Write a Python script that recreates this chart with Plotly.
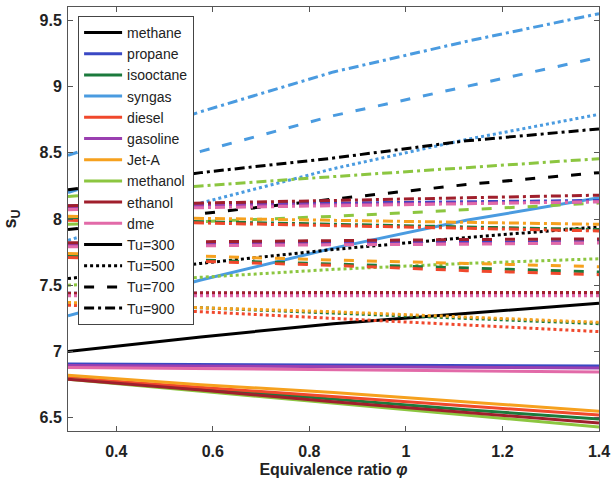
import plotly.graph_objects as go

# Equivalence ratio grid
phi = [0.3, 0.575, 0.85, 1.125, 1.4]

fuels = ["methane", "propane", "isooctane", "syngas", "diesel",
         "gasoline", "Jet-A", "methanol", "ethanol", "dme"]
fuel_colors = ["#000000", "#3a48c4", "#1b7a3c", "#4a9be0", "#f0482c",
               "#9a3fb0", "#f6a11e", "#8cc640", "#a01f2c", "#e26aa8"]

temperatures = [300, 500, 700, 900]
temp_dash = ["solid", "3px,3px", "10px,13px", "10px,4px,3px,4px"]

# Laminar flame speed s_U per fuel (rows follow `fuels`), one table per Tu
su_300 = [
    [7.00, 7.11, 7.21, 7.29, 7.365],
    [6.905, 6.90, 6.895, 6.89, 6.89],
    [6.80, 6.72, 6.64, 6.56, 6.49],
    [7.27, 7.54, 7.78, 7.99, 8.16],
    [6.80, 6.73, 6.66, 6.59, 6.52],
    [6.895, 6.89, 6.885, 6.88, 6.875],
    [6.82, 6.75, 6.69, 6.62, 6.55],
    [6.79, 6.70, 6.61, 6.52, 6.43],
    [6.79, 6.71, 6.62, 6.54, 6.46],
    [6.88, 6.87, 6.86, 6.85, 6.845],
]
su_500 = [
    [7.55, 7.665, 7.77, 7.86, 7.94],
    [7.44, 7.44, 7.44, 7.44, 7.44],
    [7.36, 7.33, 7.29, 7.25, 7.21],
    [7.84, 8.12, 8.38, 8.60, 8.79],
    [7.35, 7.30, 7.25, 7.20, 7.15],
    [7.43, 7.43, 7.43, 7.43, 7.43],
    [7.37, 7.33, 7.30, 7.26, 7.22],
    [7.50, 7.56, 7.62, 7.665, 7.70],
    [7.44, 7.445, 7.445, 7.445, 7.445],
    [7.42, 7.42, 7.42, 7.42, 7.42],
]
su_700 = [
    [7.92, 8.04, 8.15, 8.26, 8.35],
    [7.81, 7.815, 7.82, 7.825, 7.83],
    [7.72, 7.69, 7.66, 7.63, 7.60],
    [8.20, 8.51, 8.78, 9.00, 9.22],
    [7.71, 7.68, 7.65, 7.61, 7.58],
    [7.80, 7.805, 7.81, 7.815, 7.82],
    [7.74, 7.72, 7.69, 7.665, 7.64],
    [7.96, 7.98, 8.02, 8.07, 8.12],
    [7.82, 7.83, 7.84, 7.845, 7.85],
    [7.79, 7.80, 7.805, 7.81, 7.82],
]
su_900 = [
    [8.22, 8.35, 8.46, 8.59, 8.68],
    [8.10, 8.11, 8.12, 8.13, 8.14],
    [8.00, 7.98, 7.96, 7.94, 7.92],
    [8.48, 8.81, 9.11, 9.34, 9.55],
    [7.99, 7.97, 7.95, 7.93, 7.91],
    [8.09, 8.10, 8.11, 8.12, 8.13],
    [8.02, 8.005, 7.99, 7.975, 7.96],
    [8.17, 8.25, 8.32, 8.39, 8.455],
    [8.10, 8.12, 8.14, 8.16, 8.18],
    [8.07, 8.085, 8.10, 8.115, 8.13],
]
su_tables = [su_300, su_500, su_700, su_900]

fig = go.Figure()

for table, dash in zip(su_tables, temp_dash):
    for name, color, values in zip(fuels, fuel_colors, table):
        fig.add_trace(go.Scatter(
            x=phi, y=values, mode="lines", showlegend=False,
            line=dict(color=color, width=3, dash=dash),
            hoverinfo="skip",
        ))

# Legend entries: fuel colours, then line style per unburnt temperature
for name, color in zip(fuels, fuel_colors):
    fig.add_trace(go.Scatter(x=[None], y=[None], mode="lines", name=name,
                             line=dict(color=color, width=3)))
for tu, dash in zip(temperatures, temp_dash):
    fig.add_trace(go.Scatter(x=[None], y=[None], mode="lines", name=f"Tu={tu}",
                             line=dict(color="#000000", width=3, dash=dash)))

tick_font = dict(family="Arial", size=16, color="#222222", weight="bold")
axis_common = dict(
    showline=True, linecolor="#555555", linewidth=1, mirror="ticks",
    ticks="inside", ticklen=5, tickcolor="#555555", showgrid=False,
    zeroline=False, tickfont=tick_font, ticklabeloverflow="allow",
)

fig.update_layout(
    width=616, height=485,
    margin=dict(l=68, r=11, t=6, b=54),
    paper_bgcolor="white", plot_bgcolor="white",
    font=dict(family="Arial", color="#222222"),
    xaxis=dict(range=[0.3, 1.4], tickvals=[0.4, 0.6, 0.8, 1.0, 1.2, 1.4],
               ticktext=["0.4", "0.6", "0.8", "1", "1.2", "1.4"],
               ticklabelstandoff=6,
               title=dict(text="Equivalence ratio <i>φ</i>",
                          font=dict(family="Arial", size=16, color="#222222",
                                    weight="bold"),
                          standoff=4),
               **axis_common),
    yaxis=dict(range=[6.4, 9.6], tickvals=[6.5, 7, 7.5, 8, 8.5, 9, 9.5],
               ticktext=["6.5", "7", "7.5", "8", "8.5", "9", "9.5"],
               ticklabelstandoff=2,
               title=dict(text="s<sub>U</sub>",
                          font=dict(family="Arial", size=18, color="#222222",
                                    weight="bold"),
                          standoff=18),
               **axis_common),
    legend=dict(x=0.019, y=0.979, xanchor="left", yanchor="top",
                bgcolor="white", bordercolor="#444444", borderwidth=1,
                font=dict(family="Arial", size=14, color="#222222"),
                itemwidth=38, tracegroupgap=0),
)

fig.write_html("out.html")
